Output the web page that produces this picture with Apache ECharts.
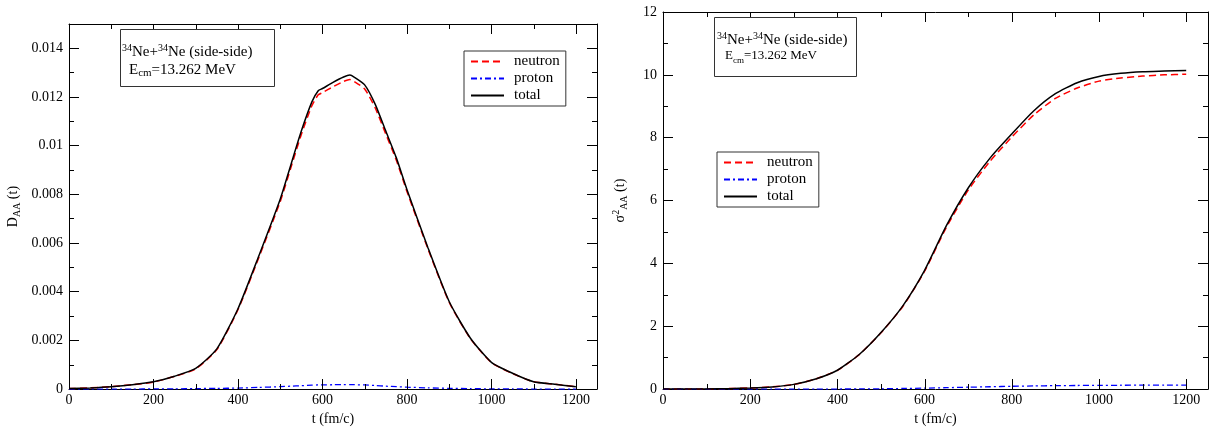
<!DOCTYPE html>
<html><head><meta charset="utf-8">
<script src="https://cdn.jsdelivr.net/npm/echarts@6/dist/echarts.min.js"></script>
<style>html,body{margin:0;padding:0;background:#fff}#c{width:1215px;height:431px}</style>
</head><body><div id="c"></div>
<script>
// ---- Left panel: D_AA(t) ----
const tD = [0,50,100,150,200,250,300,350,400,450,500,525,550,575,590,600,625,650,665,675,700,725,750,775,800,850,900,950,1000,1050,1100,1150,1200];
const dTotal = [0.00002,0.00005,0.0001,0.00018,0.0003,0.00053,0.00085,0.00165,0.0033,0.0055,0.0078,0.0092,0.0106,0.0118,0.01226,0.01235,0.0126,0.01282,0.0129,0.01282,0.0125,0.0117,0.0106,0.0095,0.0082,0.0058,0.0036,0.0021,0.0011,0.00065,0.0003,0.0002,0.0001];
const dProton = [0,0,0,0,0.00001,0.00001,0.00002,0.00003,0.00004,0.00007,0.0001,0.00012,0.00014,0.00016,0.00017,0.00017,0.00018,0.00018,0.00018,0.00018,0.00017,0.00015,0.00012,0.0001,0.00008,0.00005,0.00003,0.00002,0.00001,0.00001,0,0,0];
const dNeutron = [0.00002,0.00005,0.0001,0.00018,0.00029,0.00052,0.00083,0.00162,0.00326,0.00543,0.0077,0.00908,0.01046,0.01164,0.01209,0.01218,0.01242,0.01264,0.01272,0.01264,0.01233,0.01155,0.01048,0.0094,0.00812,0.00575,0.00357,0.00208,0.00109,0.00064,0.0003,0.0002,0.0001];
// ---- Right panel: sigma^2_AA(t) ----
const tS = [0,50,100,150,200,250,300,350,400,450,500,550,600,650,700,750,800,850,900,950,1000,1050,1100,1150,1200];
const sTotal = [0,0.002,0.006,0.015,0.035,0.07,0.15,0.32,0.6,1.1,1.8,2.65,3.78,5.2,6.4,7.35,8.12,8.85,9.4,9.75,9.95,10.05,10.1,10.12,10.14];
const sProton = [0,0,0,0,0,0,0,0,0.002,0.005,0.01,0.02,0.03,0.045,0.06,0.075,0.09,0.1,0.11,0.115,0.12,0.122,0.125,0.125,0.125];
const sNeutron = [0,0.002,0.006,0.015,0.035,0.07,0.15,0.32,0.598,1.095,1.79,2.63,3.75,5.15,6.33,7.25,8.02,8.72,9.25,9.58,9.8,9.9,9.96,10.0,10.02];
const seriesNames = ['neutron','proton','total'];
const xName = 't (fm/c)';
const xMajorTicks = [0,200,400,600,800,1000,1200];
const xMinorTicks = [100,300,500,700,900,1100];

const FONT = 'Liberation Serif';
const chart = echarts.init(document.getElementById('c'));
const pair = (xs, ys) => xs.map((x, i) => [x, ys[i]]);
const fmt = v => String(+v.toPrecision(6));
const AXX = 2, AXY = 6;
const GRIDS = [
  {left: 69, top: 24, width: 528, height: 368},
  {left: 663, top: 12, width: 545, height: 381}
];
const YMAX = [0.015, 12];

const nameRich = {
  n: {fontFamily: FONT, fontSize: 14, color: '#000', lineHeight: 18},
  sub: {fontFamily: FONT, fontSize: 10, color: '#000', lineHeight: 10, verticalAlign: 'bottom'},
  sup: {fontFamily: FONT, fontSize: 10, color: '#000', lineHeight: 10, verticalAlign: 'top'}
};

function axis(dir, grid, pos, kind, max, interval, extra) {
  const isMajor = kind === 'major', isMinor = kind === 'minor';
  const tickKind = isMajor || isMinor;
  const a = {
    type: 'value', gridIndex: grid, position: pos, min: 0, max: max,
    interval: isMinor ? interval / 2 : interval,
    offset: isMajor ? -10 : (isMinor ? -5 : 0),
    axisLine: {show: !tickKind, onZero: false, lineStyle: {color: '#000', width: 1}},
    axisTick: {show: tickKind, inside: false, length: isMajor ? 10 : 5, lineStyle: {color: '#000', width: 1}},
    minorTick: {show: false},
    axisLabel: {show: kind === 'main', margin: dir === 'x' ? 4 : 6, fontFamily: FONT, fontSize: 14, color: '#000',
                showMaxLabel: dir === 'y' && max === 12, showMinLabel: true, formatter: fmt},
    splitLine: {show: false}, minorSplitLine: {show: false},
    silent: true
  };
  return Object.assign(a, kind === 'main' ? extra : {});
}
function xAxesFor(grid, extra) {
  return [axis('x', grid, 'bottom', 'main', 1250, 200, extra), axis('x', grid, 'top', 'line', 1250, 200)];
}
function yAxesFor(grid, max, interval, extra) {
  return [
    axis('y', grid, 'left', 'main', max, interval, extra),
    axis('y', grid, 'left', 'major', max, interval),
    axis('y', grid, 'left', 'minor', max, interval),
    axis('y', grid, 'right', 'line', max, interval),
    axis('y', grid, 'right', 'major', max, interval),
    axis('y', grid, 'right', 'minor', max, interval)
  ];
}
const xExtra = gap => ({name: xName, nameLocation: 'middle', nameGap: gap,
  nameTextStyle: {fontFamily: FONT, fontSize: 14, color: '#000'}});
const yExtra = (name, gap) => ({name: name, nameLocation: 'middle', nameRotate: 90, nameGap: gap,
  nameTextStyle: {fontFamily: FONT, fontSize: 14, color: '#000', rich: nameRich}});

const styles = {
  neutron: {color: '#ff0000', width: 1.5, type: [7, 4]},
  proton: {color: '#0000ff', width: 1.3, type: [6, 3, 2, 3]},
  total: {color: '#000000', width: 1.5, type: 'solid'}
};
function mk(name, grid, xs, ys) {
  return {
    type: 'line', name: name, xAxisIndex: grid * AXX, yAxisIndex: grid * AXY, data: pair(xs, ys),
    showSymbol: false, symbol: 'none', smooth: 0.2, lineStyle: styles[name],
    itemStyle: {color: styles[name].color}, emphasis: {disabled: true}, animation: false
  };
}
function legend(left, top) {
  return {
    data: seriesNames, orient: 'vertical', left: left, top: top,
    itemWidth: 33, itemHeight: 14, itemGap: 2, padding: [3, 6, 3, 6],
    borderColor: '#333', borderWidth: 1, backgroundColor: '#fff', selectedMode: false,
    itemStyle: {opacity: 0},
    textStyle: {fontFamily: FONT, fontSize: 15, color: '#000', padding: [0, 0, 0, 5]}
  };
}
const boxRich = (big, small) => ({
  n: {fontFamily: FONT, fontSize: big, fill: '#000', lineHeight: 18},
  sup: {fontFamily: FONT, fontSize: small, fill: '#000', lineHeight: small, verticalAlign: 'top'},
  sub: {fontFamily: FONT, fontSize: small, fill: '#000', lineHeight: small, verticalAlign: 'bottom'}
});
function boxTexts(x1, y1, x2, y2, f2) {
  return [
    {type: 'text', x: x1, y: y1, z: 100, style: {text: '{sup|34}{n|Ne+}{sup|34}{n|Ne (side-side)}', rich: boxRich(15, 10), verticalAlign: 'top', align: 'left'}},
    {type: 'text', x: x2, y: y2, z: 100, style: {text: '{n|E}{sub|cm}{n|=13.262 MeV}', rich: boxRich(f2, f2 - 4), verticalAlign: 'top', align: 'left'}}
  ];
}
const baseGraphic = [
  {type: 'rect', z: 99, shape: {x: 120.5, y: 29.5, width: 154, height: 57}, style: {fill: '#fff', stroke: '#333', lineWidth: 1}},
  {type: 'rect', z: 99, shape: {x: 714.5, y: 17.5, width: 142, height: 59}, style: {fill: '#fff', stroke: '#333', lineWidth: 1}}
].concat(boxTexts(122, 43, 129, 61, 15)).concat(boxTexts(717, 31, 725, 47, 13));

chart.setOption({
  animation: false,
  backgroundColor: '#fff',
  textStyle: {fontFamily: FONT},
  grid: GRIDS,
  xAxis: xAxesFor(0, xExtra(18)).concat(xAxesFor(1, xExtra(21))),
  yAxis: yAxesFor(0, 0.015, 0.002, yExtra('{n|D}{sub|AA}{n| (t)}', 47))
    .concat(yAxesFor(1, 12, 2, yExtra('{n|σ}{sup|2}{sub|AA}{n| (t)}', 34))),
  legend: [legend(464, 51), legend(717, 152)],
  series: [
    mk('neutron', 0, tD, dNeutron), mk('proton', 0, tD, dProton), mk('total', 0, tD, dTotal),
    mk('neutron', 1, tS, sNeutron), mk('proton', 1, tS, sProton), mk('total', 1, tS, sTotal)
  ],
  graphic: baseGraphic
});

// inward x-axis tick marks (bottom and top), placed through the library's own scales
const tickGraphic = [];
GRIDS.forEach((gr, g) => {
  const conv = (finder, v, fb) => {
    let p = NaN;
    try { p = chart.convertToPixel(finder, v); } catch (e) { p = NaN; }
    return (typeof p === 'number' && isFinite(p)) ? p : fb;
  };
  const yb = Math.round(conv({yAxisIndex: g * AXY}, 0, gr.top + gr.height));
  const yt = Math.round(conv({yAxisIndex: g * AXY}, YMAX[g], gr.top));
  const add = (v, len) => {
    const px = Math.round(conv({xAxisIndex: g * AXX}, v, gr.left + v / 1250 * gr.width));
    const st = {fill: '#000', stroke: null, lineWidth: 0};
    tickGraphic.push({type: 'rect', z: 50, silent: true, shape: {x: px, y: yb - len, width: 1, height: len}, style: st});
    tickGraphic.push({type: 'rect', z: 50, silent: true, shape: {x: px, y: yt, width: 1, height: len}, style: st});
  };
  xMajorTicks.forEach(v => add(v, 10));
  xMinorTicks.forEach(v => add(v, 5));
});
chart.setOption({graphic: baseGraphic.concat(tickGraphic)});
</script>
</body></html>
